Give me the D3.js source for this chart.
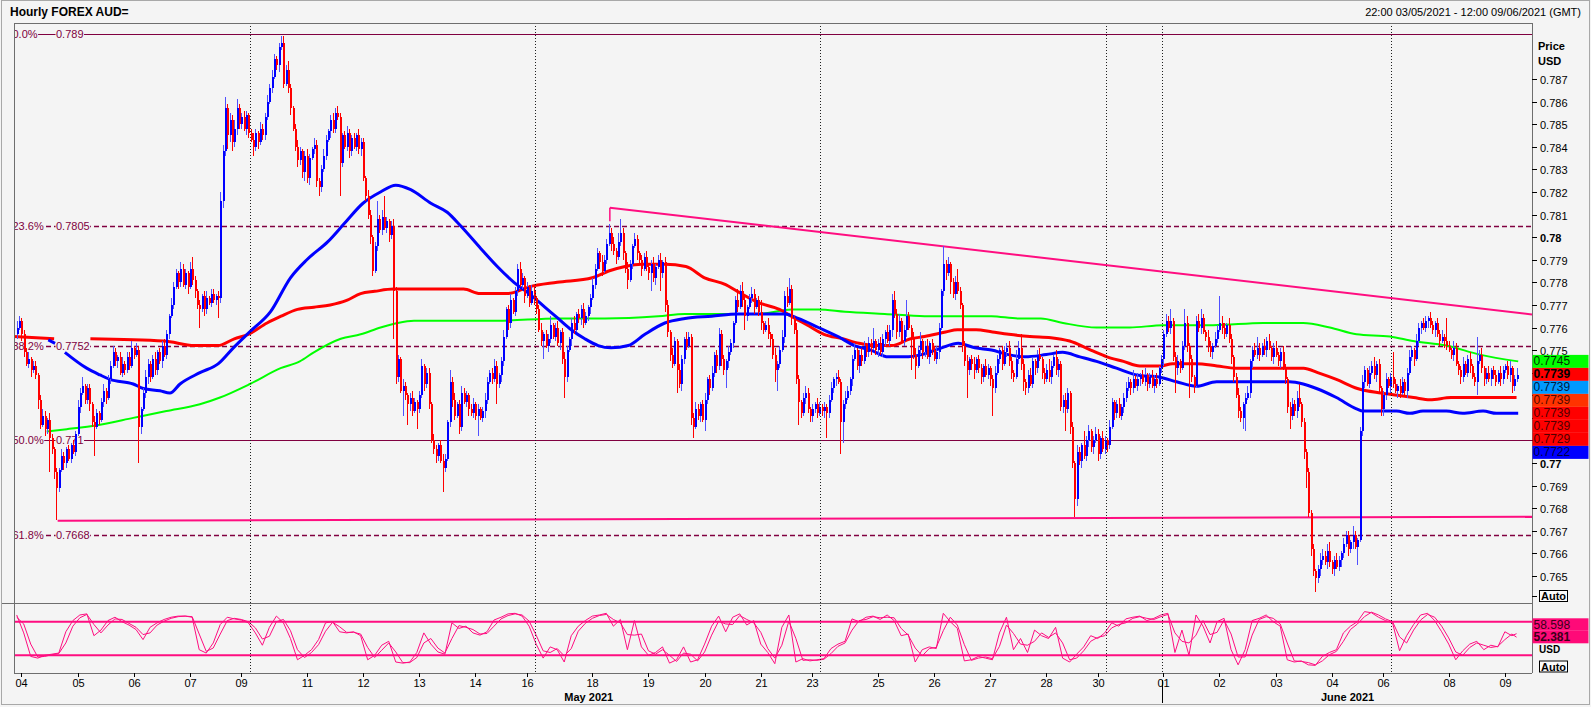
<!DOCTYPE html>
<html><head><meta charset="utf-8">
<script src="https://cdn.jsdelivr.net/npm/d3@7"></script>
<style>
html,body{margin:0;padding:0;background:#f4f4f4;}
svg{display:block;font-family:"Liberation Sans",Arial,sans-serif;}
</style></head><body>
<svg id="c" width="1591" height="707"></svg>
<script>
// ---------------- DATA ----------------
const title = "Hourly FOREX AUD=";
const rangeText = "22:00 03/05/2021 - 12:00 09/06/2021 (GMT)";
// trading days (label, number of hourly bars)
const dayLabels = ["03","04","05","06","07","09","10","11","12","13","14","16","17","18","19","20","21","23","24","25","26","27","28","30","31","01","02","03","04","06","07","08","09"];
const dayBars   = [2,24,24,24,22, 4,24,24,24,24,22, 4,24,24,24,24,22, 4,24,24,24,24,22, 4,24,24,24,24,22, 4,24,24,6];
const hiddenDayLabels = [0,6,12,18,24,30];
const weekSeparators = [6,12,18,24,25,30];
const monthNames = ["May 2021","June 2021"];
const monthFirstDay = [0,25];

const firstOpen = 7757;
// hourly closes (price x 10000)
const closes = [
7760,7763,7757,7749,7744,7746,7741,7743,7739,7728,7717,7721,
7715,7719,7711,7706,7696,7689,7697,7703,7700,7706,7702,7708,
7705,7713,7725,7731,7734,7728,7733,7726,7718,7716,7722,7719,
7727,7732,7729,7737,7743,7749,7745,7747,7740,7744,7741,7747,
7743,7751,7748,7750,7716,7724,7731,7738,7744,7738,7746,7741,
7749,7745,7752,7748,7757,7765,7770,7778,7784,7780,7786,7779,
7784,7778,7786,7781,7776,7770,7768,7774,7768,7773,7771,7775,
7772,7774,7773,7816,7838,7857,7845,7852,7842,7848,7857,7850,
7853,7848,7854,7846,7843,7840,7846,7842,7848,7845,7853,7860,
7866,7871,7879,7876,7884,7886,7868,7874,7866,7857,7848,7840,
7834,7838,7829,7836,7826,7835,7839,7841,7825,7822,7830,7836,
7843,7847,7852,7848,7855,7853,7833,7845,7840,7846,7838,7844,
7840,7845,7839,7842,7826,7818,7810,7800,7785,7796,7808,7803,
7809,7804,7807,7801,7805,7776,7738,7746,7732,7734,7730,7726,
7729,7723,7727,7724,7730,7743,7735,7740,7726,7710,7706,7703,
7708,7701,7698,7702,7718,7736,7728,7721,7726,7716,7731,7727,
7730,7724,7722,7726,7721,7724,7720,7723,7728,7736,7740,7737,
7743,7735,7739,7745,7756,7768,7762,7772,7767,7776,7786,7779,
7782,7774,
7778,7771,7776,7773,7768,7759,7754,7757,7752,7755,7761,7756,
7760,7753,7758,7746,7738,7750,7755,7762,7759,7766,7764,7768,
7762,7765,7769,7773,7779,7786,7793,7789,7785,7790,7797,7802,
7797,7794,7791,7798,7802,7793,7786,7781,7788,7796,7799,7793,
7790,7786,7791,7787,7784,7788,7782,7787,7790,7784,7789,7770,
7758,7748,7744,7754,7741,7735,7746,7755,7752,7756,7720,7716,
7724,7721,7726,7719,7728,7737,7733,7740,7748,7743,7757,7746,
7741,7745,7749,7753,7762,7772,7769,7776,7772,7765,7769,7773,
7775,7769,7772,7767,7762,7759,7761,7757,7755,7748,7741,7744,
7750,7756,7774,7771,7777,7764,7759,7737,7727,7722,7729,7731,
7724,7721,
7724,7726,7722,7725,7723,7725,7722,7728,7733,7737,7738,7736,
7718,7726,7729,7732,7737,7746,7750,7743,7748,7745,7752,7749,
7753,7751,7754,7750,7753,7749,7755,7758,7754,7759,7772,7766,
7758,7763,7754,7759,7765,7760,7756,7748,7743,7750,7754,7749,
7752,7747,7753,7750,7746,7749,7760,7776,7788,7784,7788,7780,
7775,7780,7776,7770,7752,7745,7741,7746,7744,7741,7746,7742,
7738,7743,7739,7742,7737,7733,7740,7746,7750,7744,7749,7751,
7745,7740,7738,7746,7751,7744,7736,7733,7739,7735,7745,7742,
7748,7746,7740,7737,7741,7738,7743,7747,7741,7744,7725,7728,
7724,7731,7716,7700,7684,7705,7701,7708,7703,7710,7714,7707,
7710,7713,
7704,7711,7706,7710,7708,7716,7727,7722,7726,7721,7725,7729,
7733,7736,7733,7737,7734,7737,7739,7736,7739,7735,7738,7734,
7737,7735,7742,7746,7757,7763,7760,7763,7747,7742,7745,7742,
7752,7762,7752,7746,7738,7734,7763,7760,7764,7758,7756,7752,
7749,7752,7755,7759,7762,7760,7757,7761,7755,7747,7738,7730,
7723,7720,7726,7729,7731,7745,7750,7748,7751,7748,7752,7750,
7754,7751,7747,7751,7748,7745,7749,7742,7737,7725,7721,7726,
7723,7729,7726,7718,7705,7696,7678,7662,7652,7649,7653,7657,
7659,7656,7661,7656,7653,7657,7654,7657,7660,7664,7668,7662,
7665,7668,7663,7666,7714,7736,7741,7735,7740,7743,7739,7744,
7733,7724,
7730,7737,7734,7738,7735,7732,7734,7731,7736,7732,7740,7747,
7750,7746,7754,7760,7762,7760,7763,7764,7761,7759,7762,7757,
7754,7756,7754,7752,7750,7748,7751,7744,7741,7738,7744,7740,
7746,7743,7738,7736,7745,7748,7742,7737,7740,7737,7741,7739,
7736,7740,7737,7741,7743,7739,7742,7734,7737,7739
];
// upper wick length above body (pips)
const wickUp = [
3,2,1,2,2,3,1,2,2,1,2,3, 2,1,3,2,1,2,1,3,2,1,2,1, 2,1,3,2,4,1,2,2,1,3,2,1, 2,3,1,2,2,3,2,1,2,3,1,2,
2,3,1,3,2,1,2,3,2,1,2,3, 1,2,2,3,2,1,3,2,2,1,3,2, 2,1,3,5,2,1,2,1,2,3,1,2, 2,1,2,4,3,5,2,3,2,4,4,2,
2,3,2,1,2,3,2,1,3,2,2,3, 2,3,2,1,2,3,3,2,4,2,1,2, 3,2,1,2,3,2,1,3,2,1,2,3, 2,1,2,3,2,3,2,1,2,3,2,1,
2,1,3,2,2,1,3,2,1,2,8,2, 3,9,2,1,2,3,2,2,1,3,2,1, 2,3,2,1,2,3,1,2,2,1,3,2, 1,2,3,2,1,5,2,3,1,2,3,2,
2,1,2,3,1,2,1,2,3,2,1,2, 3,2,1,2,3,1,2,3,1,2,2,3, 2,1,
2,1,3,2,1,2,3,1,2,2,4,1, 2,3,1,2,3,2,1,2,3,1,2,2, 3,2,1,2,3,2,2,1,3,2,2,4, 2,3,1,4,6,2,1,3,2,1,3,2,
1,2,2,3,1,2,3,1,2,3,1,2, 2,1,3,2,1,3,2,1,3,2,1,2, 3,2,1,2,3,1,2,3,1,2,3,2, 2,1,3,2,1,2,5,3,4,2,1,2,
3,2,1,2,5,1,2,3,1,2,3,1, 2,3,2,4,5,2,1,3,2,1,2,3, 2,1,
2,1,3,2,1,2,1,2,3,1,2,3, 1,2,3,2,1,2,3,1,2,3,2,1, 3,2,6,1,2,3,2,1,3,2,3,4, 2,3,1,2,7,2,1,2,3,2,4,1,
2,3,1,2,2,3,2,1,8,2,3,1, 2,3,6,2,1,2,3,1,2,3,1,2, 2,1,3,2,1,2,3,2,1,2,3,2, 3,2,1,4,3,6,2,1,2,3,2,1,
2,3,1,2,3,5,2,1,3,2,1,2, 3,2,1,2,1,3,2,1,6,2,3,1, 2,3,
2,1,3,2,1,3,2,1,2,3,1,2, 3,2,1,4,2,3,1,2,3,1,2,3, 2,3,1,2,2,3,2,5,1,2,3,1, 2,6,3,1,2,1,2,3,4,2,1,3,
2,1,3,2,12,3,2,1,3,2,1,2, 3,2,1,2,3,1,2,3,5,2,1,3, 2,3,1,2,3,1,2,3,2,1,2,3, 2,3,6,1,2,1,2,1,2,1,2,3,
3,2,3,4,1,2,3,2,1,3,2,2, 1,4,2,1,2,3,2,1,3,2,4,1, 2,1,
2,3,1,2,11,2,1,3,2,1,2,3, 2,1,3,2,1,2,2,1,3,2,1,2, 2,3,1,10,2,1,3,2,1,2,3,1, 2,3,1,2,11,2,3,1,2,3,1,2,
2,1,3,2,1,2,3,1,2,3
];
// lower wick length below body (pips)
const wickDn = [
2,1,3,2,1,2,3,1,2,4,2,1, 3,2,15,2,3,14,2,1,3,2,1,2, 1,2,1,3,1,2,2,3,2,13,1,2, 1,2,3,1,2,1,2,3,1,2,2,1,
2,1,2,1,16,3,1,2,3,2,1,2, 2,1,3,1,2,2,1,2,1,3,2,1, 2,3,1,2,3,2,8,1,3,2,1,2, 1,2,9,2,3,2,6,3,4,2,3,2,
2,1,3,2,1,4,2,3,1,2,2,1, 1,2,1,2,3,1,2,1,2,3,1,2, 3,2,3,4,2,3,1,2,3,4,2,1, 2,1,3,2,2,1,15,2,1,2,3,2,
1,2,2,3,1,2,2,3,2,1,2,1, 2,1,2,3,2,21,3,2,1,11,2,9, 3,2,1,9,2,1,3,2,2,1,2,3, 2,1,11,2,1,2,3,2,1,3,2,1,
2,3,1,2,2,9,1,2,3,2,1,2, 1,9,2,3,2,1,3,2,1,2,2,1, 2,3,
1,2,1,3,2,1,2,8,1,3,2,1, 2,1,3,2,9,2,1,3,2,1,2,3, 2,1,2,3,1,2,1,3,2,1,2,1, 3,2,3,1,2,3,2,4,1,2,1,3,
2,3,1,2,3,8,2,3,1,8,2,3, 2,3,2,1,10,2,3,2,2,1,3,5, 1,2,3,1,5,2,3,1,2,3,2,3, 2,8,3,1,2,1,2,1,3,6,2,1,
2,3,1,2,3,2,1,2,3,2,5,9, 2,1,3,2,1,3,2,2,10,2,1,3, 2,3,
3,2,2,1,2,3,11,2,1,2,3,1, 14,9,2,1,2,3,1,2,3,2,1,2, 2,3,1,2,3,1,2,3,1,2,3,2, 3,2,1,2,3,1,15,2,6,1,2,3,
2,1,3,2,1,2,3,1,2,3,1,5, 2,3,1,2,3,2,12,2,3,4,1,2, 3,2,1,2,3,12,2,1,2,3,1,2, 2,3,2,1,2,3,4,3,2,1,2,3,
2,1,3,2,1,2,3,1,2,3,2,3, 10,2,3,2,8,3,2,3,1,2,3,2, 3,1,
3,2,1,2,3,2,1,3,2,1,2,3, 2,1,3,2,1,2,3,1,2,3,2,1, 3,2,1,2,3,1,2,3,2,11,3,2, 1,2,3,17,2,3,1,2,3,1,2,3,
2,3,1,2,1,3,2,1,2,3,2,1, 3,2,5,12,1,2,3,1,2,3,1,2, 3,1,2,3,1,2,3,1,2,3,6,2, 2,3,1,2,3,7,2,3,2,6,2,3,
2,1,3,2,2,3,1,2,3,2,1,3, 2,3,1,8,1,2,3,1,2,1,2,3, 2,3,
3,2,1,3,2,1,3,2,1,2,3,1, 2,3,1,2,3,1,2,3,1,2,3,1, 2,1,3,2,1,2,3,1,2,3,2,1, 2,3,1,2,6,1,2,3,2,1,3,2,
2,1,3,2,1,2,3,3,2,1
];

// moving averages: [bar index, price]; null = gap
const redMA = [[-1.2,0.7756],[16,0.7755],null,[31.5,0.7755],[63,0.7754],[76,0.7752],[86,0.7752],[93,0.7755],[99,0.7757],[107,0.7762],[113,0.7765],[120,0.7768],[127,0.7769],[134,0.7770],[141,0.7772],[147,0.7775],[153,0.7776],[161,0.7777],[173,0.7777],[181,0.7777],[191,0.7777],[198,0.7775],[210,0.7775],[219,0.7778],[231,0.7780],[246,0.7782],[253,0.7785],[260,0.7787],[267,0.7788],[277,0.7788],[286,0.7787],[294,0.7782],[303,0.7779],[308,0.7776],[317,0.7771],[326,0.7768],[331,0.7765],[338,0.7761],[345,0.7757],[353,0.7755],[360,0.7753],[368,0.7752],[374,0.7752],[382,0.7755],[388,0.7756],[397,0.7758],[402,0.7759],[410,0.7759],[417,0.7758],[424,0.7757],[433,0.7756],[442,0.77555],[450,0.7754],[459,0.7750],[466,0.7747],[473,0.7745],[480,0.7743],[489,0.7743],[494,0.7744],[504,0.7744],[513,0.7743],[521,0.7742],[533,0.7742],[550,0.7742],[556,0.7740],[564,0.7737],[573,0.7733],[583,0.7731],[590,0.7730],[597,0.7729],[604,0.7728],[613,0.7729],[641,0.7729]];
const blueMA = [[13.5,0.77545],[16.4,0.7753],null,[20.6,0.7749],[29.9,0.7742],[35.6,0.7739],[39.9,0.7737],[49.8,0.7735],[54.1,0.7733],[61.2,0.7732],[65.5,0.7731],[69.8,0.7735],[78.3,0.7740],[86.2,0.7744],[92.6,0.7751],[99.5,0.7758],[108.5,0.7767],[117,0.7782],[124,0.7790],[133,0.7798],[140,0.7806],[148,0.7815],[155.5,0.7820],[162,0.7823],[168.4,0.7821],[177,0.7815],[184,0.7811],[189.7,0.7805],[198.3,0.7795],[205.4,0.7787],[212.5,0.7780],[219,0.7775],[225.7,0.7769],[231.4,0.7764],[237,0.7759],[242.8,0.7755],[248.5,0.7752],[254,0.7751],[261.4,0.7752],[268.5,0.7757],[277,0.7762],[285.6,0.7764],[297,0.7765],[308.4,0.7766],[328.3,0.7766],[334,0.7764],[342.6,0.7760],[351,0.7756],[358,0.7752],[365,0.7750],[372.5,0.7747],[379.6,0.7747],[386.7,0.7748],[395.3,0.7751],[402.4,0.7753],[409.5,0.7751],[416.6,0.7750],[423.8,0.7748],[431,0.7747],[440,0.7748],[447,0.7749],[454.4,0.7747],[461.5,0.7745],[470,0.7742],[478.6,0.7739],[488.6,0.7738],[495.7,0.7736],[504.2,0.7734],[512.8,0.7736],[532.7,0.7736],[544,0.7736],[549.8,0.7735],[555.5,0.7733],[564,0.7729],[572.6,0.7724],[575.4,0.7723],[589.7,0.7723],[595.4,0.7722],[601,0.7723],[611,0.7723],[618,0.7722],[626.7,0.7723],[632.4,0.7722],[641.7,0.7722]];
const greenMA = [[12.8,0.7714],[21.4,0.7715],[35.6,0.7717],[49.8,0.7720],[64,0.7723],[78.3,0.7726],[86.9,0.7729],[99.7,0.7735],[112.8,0.7742],[121,0.7745],[127,0.7749],[138.5,0.7755],[147,0.7757],[155.5,0.7760],[162.7,0.7762],[169.8,0.7763],[205.4,0.7763],[231.4,0.7764],[251.4,0.7764],[274.2,0.7765],[285.6,0.7766],[317,0.7766],[331.2,0.7768],[342.6,0.7768],[354,0.7767],[371,0.7766],[388,0.7765],[416.6,0.7765],[428,0.7764],[437.7,0.7764],[447.2,0.7762],[461.5,0.7760],[475.7,0.7760],[490,0.7761],[511.3,0.7761],[532.7,0.7762],[549.8,0.7762],[561.2,0.7760],[572.6,0.7757],[586.9,0.7756],[596.8,0.7754],[611,0.7752],[625.3,0.7748],[641.7,0.7745]];

// trend lines [bar index, price]
const resistanceLine = [[253.5,0.7813],[647.6,0.77658]];
const resistanceTick = [[253.5,0.7813],[253.5,0.7807]];
const supportLine = [[17.5,0.76745],[647.6,0.76762]];

// Fibonacci retracement
const fibPct = ["0.0%","23.6%","38.2%","50.0%","61.8%"];
const fibLevels = [0.789,0.7805,0.7752,0.771,0.7668];
const fibText = ["0.789","0.7805","0.7752","0.771","0.7668"];
const fibDashed = [false,true,true,false,true];

// price axis
const priceTicks = [0.765,0.766,0.767,0.768,0.769,0.77,0.771,0.772,0.773,0.774,0.775,0.776,0.777,0.778,0.779,0.78,0.781,0.782,0.783,0.784,0.785,0.786,0.787];
const priceTickText = ["0.765","0.766","0.767","0.768","0.769","0.77","0.771","0.772","0.773","0.774","0.775","0.776","0.777","0.778","0.779","0.78","0.781","0.782","0.783","0.784","0.785","0.786","0.787"];
const priceTagVals = ["0.7745","0.7739","0.7739","0.7739","0.7739","0.7739","0.7729","0.7722"];
const priceTagBg = ["#00ff00","#ff0000","#0099ff","#ff3300","#ff0000","#ff0000","#ff0000","#0000ff"];
const priceTagFg = ["#003000","#000000","#001a40","#500800","#500000","#500000","#500000","#000040"];
const priceTagBold = [false,true,false,false,false,false,false,false];

// stochastic oscillator (sampled every 3 bars, last at bar 641)
const oscK = [92,60,18,15,20,22,24,62,82,92, 94,55,65,82,88,80,74,66,48,70, 78,84,88,90,90,88,30,24,42,75,
88,85,83,78,60,38,70,90,78,50, 12,20,30,48,78,80,62,60,62,55, 12,20,38,45,8,6,8,25,60,40,
26,22,78,68,72,60,56,62,83,88, 94,95,90,72,40,15,35,30,8,55, 72,82,90,92,95,72,84,30,82,35,
20,25,35,6,12,35,8,12,40,72, 90,62,88,94,74,82,40,25,5,70, 92,8,14,10,12,14,32,40,45,85,
80,88,90,84,92,82,55,58,8,30, 35,32,95,80,68,10,12,18,15,12, 60,88,30,50,25,65,55,50,70,15,
8,22,35,55,50,60,78,72,85,88, 90,82,86,92,95,25,65,20,92,72, 42,80,86,30,3,30,82,86,92,80,
72,12,8,10,3,2,18,25,30,60, 72,80,98,96,88,82,78,28,55,75, 92,95,82,62,40,12,28,40,45,30,
38,35,62,55, 58.598];
const oscD = [88,76,40,17,18,21,23,42,72,87, 93,75,60,74,85,84,77,70,57,60, 74,81,86,89,90,89,58,27,33,58,
82,86,84,80,69,49,54,80,84,64, 30,16,25,39,63,79,71,61,61,58, 34,16,29,42,26,7,7,16,42,50,
33,24,50,73,70,66,58,59,72,85, 91,94,92,81,56,28,25,32,19,32, 63,77,86,91,93,84,78,57,56,58,
28,22,30,20,9,24,22,10,26,56, 81,76,75,91,84,78,61,32,15,38, 81,50,11,12,11,13,23,36,42,65,
82,84,89,87,88,87,68,56,33,19, 32,34,64,88,74,39,11,15,17,14, 36,74,59,40,38,45,60,52,60,42,
12,15,28,45,52,55,69,75,78,86, 89,86,84,89,93,60,45,42,56,82, 57,61,83,58,17,17,56,84,89,86,
76,42,10,9,7,3,10,21,27,45, 66,76,89,97,92,85,80,53,42,65, 83,93,88,72,51,26,20,34,42,38,
34,36,48,58, 52.381];
const oscTagVals = ["58.598","52.381"];
const oscTagBold = [false,true];

// ---------------- LAYOUT ----------------
const W = 1591, H = 707, BG = "#f4f4f4";
const plotL = 14, plotR = 1532, plotT = 23, mainB = 603, oscB = 673;
const svg = d3.select("#c");
svg.append("rect").attr("width", W).attr("height", H).attr("fill", BG);

const dayStart = []; let acc = 0;
dayBars.forEach(n => { dayStart.push(acc); acc += n; });

const x = d3.scaleLinear().domain([-1.15, 647.6]).range([plotL, plotR]);
const y = d3.scaleLinear().domain([0.765, 0.787]).range([576, 79]);
const yo = d3.scaleLinear().domain([0, 100]).range([666.5, 610.5]);

const defs = svg.append("defs");
defs.append("clipPath").attr("id","cm").append("rect").attr("x",plotL).attr("y",plotT).attr("width",plotR-plotL).attr("height",mainB-plotT);
defs.append("clipPath").attr("id","co").append("rect").attr("x",plotL).attr("y",mainB).attr("width",plotR-plotL).attr("height",oscB-mainB);

// outer frame
svg.append("rect").attr("x",1.5).attr("y",0.5).attr("width",1588).attr("height",704).attr("fill","none").attr("stroke","#a8a8a8");

// title texts
svg.append("text").attr("x",10).attr("y",16).attr("font-size",12).attr("font-weight","bold").attr("fill","#000").text(title);
svg.append("text").attr("x",1581).attr("y",16).attr("text-anchor","end").attr("font-size",11).attr("fill","#000").text(rangeText);

const main = svg.append("g").attr("clip-path","url(#cm)");
const osc = svg.append("g").attr("clip-path","url(#co)");

// fib lines
const fibColor = "#800040";
fibLevels.forEach((lv,i) => {
  const yy = Math.round(y(lv)) + 0.5;
  main.append("line").attr("x1",plotL).attr("x2",plotR).attr("y1",yy).attr("y2",yy)
    .attr("stroke",fibColor).attr("stroke-width",fibDashed[i]?1.3:1)
    .attr("stroke-dasharray",fibDashed[i]?"5,3":null);
});
fibLevels.forEach((lv,i) => {
  const yy = y(lv);
  [[fibPct[i],12.5],[fibText[i],56]].forEach(([t,tx]) => {
    const bgR = main.append("rect").attr("fill",BG);
    const tEl = main.append("text").attr("x",tx).attr("y",yy+4).attr("font-size",11).attr("fill",fibColor).text(t);
    const w = tEl.node().getComputedTextLength();
    bgR.attr("x",tx-0.5).attr("y",yy-5).attr("width",w+1).attr("height",10);
  });
});

// week separators (dotted)
weekSeparators.forEach(d => {
  const xx = Math.round(x(dayStart[d]-0.5)) + 0.5;
  svg.append("line").attr("x1",xx).attr("x2",xx).attr("y1",plotT).attr("y2",oscB)
    .attr("stroke","#202020").attr("stroke-width",1).attr("stroke-dasharray","1,2");
});

// moving averages
const maLine = d3.line().defined(d => d !== null).x(d => x(d[0])).y(d => y(d[1])).curve(d3.curveMonotoneX);
main.append("path").attr("d",maLine(greenMA)).attr("fill","none").attr("stroke","#00ff00").attr("stroke-width",2);
main.append("path").attr("d",maLine(redMA)).attr("fill","none").attr("stroke","#ff0000").attr("stroke-width",3);
main.append("path").attr("d",maLine(blueMA)).attr("fill","none").attr("stroke","#0000ff").attr("stroke-width",3);

// trend lines
const tl = d3.line().x(d => x(d[0])).y(d => y(d[1]));
const pink = "#ff0d80";
main.append("path").attr("d",tl(resistanceLine)).attr("fill","none").attr("stroke",pink).attr("stroke-width",2);
main.append("path").attr("d",tl(resistanceTick)).attr("fill","none").attr("stroke",pink).attr("stroke-width",1.5);
main.append("path").attr("d",tl(supportLine)).attr("fill","none").attr("stroke",pink).attr("stroke-width",2);

// candles
const bars = closes.map((c,i) => {
  const o = i === 0 ? firstOpen : closes[i-1];
  const hi = Math.max(o,c) + (wickUp[i] || 0);
  const lo = Math.min(o,c) - (wickDn[i] || 0);
  return {i, o:o/1e4, c:c/1e4, h:hi/1e4, l:lo/1e4, up: c >= o};
});
const cg = main.append("g").attr("shape-rendering","crispEdges");
cg.selectAll("line.w").data(bars).join("line").attr("class","w")
  .attr("x1",d => Math.round(x(d.i))+0.5).attr("x2",d => Math.round(x(d.i))+0.5)
  .attr("y1",d => y(d.h)).attr("y2",d => y(d.l))
  .attr("stroke",d => d.up ? "#5050ff" : "#ff0000").attr("stroke-width",1);
cg.selectAll("rect.b").data(bars).join("rect").attr("class","b")
  .attr("x",d => Math.round(x(d.i))-0.5).attr("width",2)
  .attr("y",d => y(Math.max(d.o,d.c)))
  .attr("height",d => Math.max(1, y(Math.min(d.o,d.c)) - y(Math.max(d.o,d.c))))
  .attr("fill",d => d.up ? "#0000ff" : "#ff0000");

// oscillator
const oscIdx = d3.range(0, 640, 3).concat([641]);
[80,20].forEach(v => {
  osc.append("line").attr("x1",plotL).attr("x2",plotR).attr("y1",yo(v)).attr("y2",yo(v)).attr("stroke",pink).attr("stroke-width",2);
});
const oLine = d3.line().x((d,i) => x(oscIdx[i])).y(d => yo(d));
osc.append("path").attr("d",oLine(oscD)).attr("fill","none").attr("stroke",pink).attr("stroke-width",1);
osc.append("path").attr("d",oLine(oscK)).attr("fill","none").attr("stroke",pink).attr("stroke-width",1);

// frames
const frame = "#6e6e6e";
svg.append("line").attr("x1",plotL).attr("x2",plotR).attr("y1",plotT+0.5).attr("y2",plotT+0.5).attr("stroke",frame);
svg.append("line").attr("x1",2).attr("x2",plotR).attr("y1",mainB+0.5).attr("y2",mainB+0.5).attr("stroke",frame);
svg.append("line").attr("x1",plotL).attr("x2",plotR).attr("y1",oscB+0.5).attr("y2",oscB+0.5).attr("stroke",frame);
svg.append("line").attr("x1",plotL+0.5).attr("x2",plotL+0.5).attr("y1",plotT).attr("y2",oscB).attr("stroke",frame);
svg.append("line").attr("x1",plotR+0.5).attr("x2",plotR+0.5).attr("y1",plotT).attr("y2",oscB).attr("stroke",frame);

// price tags region (labels under it are covered in the reference)
const tag0 = y(+priceTagVals[0]) - 6.5;
const tagBottom = tag0 + priceTagVals.length*13;

// price axis
const ax = svg.append("g");
priceTicks.forEach((v,i) => {
  const yy = Math.round(y(v))+0.5;
  ax.append("line").attr("x1",plotR).attr("x2",plotR+5).attr("y1",yy).attr("y2",yy).attr("stroke","#000");
  if (yy - 6 > tag0 - 1 && yy - 6 < tagBottom - 2) return; // hidden behind tags
  ax.append("text").attr("x",plotR+8).attr("y",yy+4).attr("font-size",11)
    .attr("font-weight",(v===0.77||v===0.78)?"bold":"normal").attr("fill","#000").text(priceTickText[i]);
});
ax.append("line").attr("x1",plotR).attr("x2",plotR+5).attr("y1",596.5).attr("y2",596.5).attr("stroke","#000");
ax.append("text").attr("x",1538).attr("y",50).attr("font-size",11).attr("font-weight","bold").text("Price");
ax.append("text").attr("x",1538).attr("y",65).attr("font-size",11).attr("font-weight","bold").text("USD");
ax.append("text").attr("x",1539).attr("y",653).attr("font-size",10).attr("font-weight","bold").text("USD");

// price tags
priceTagVals.forEach((t,i) => {
  const ty = tag0 + i*13;
  ax.append("rect").attr("x",plotR+0.5).attr("y",ty).attr("width",56).attr("height",13).attr("fill",priceTagBg[i]);
  ax.append("text").attr("x",plotR+1.5).attr("y",ty+10.5).attr("font-size",12)
    .attr("font-weight",priceTagBold[i]?"bold":"normal").attr("fill",priceTagFg[i]).text(t);
});
oscTagVals.forEach((t,i) => {
  const ty = 618.3 + i*12.5;
  ax.append("rect").attr("x",plotR+0.5).attr("y",ty).attr("width",56).attr("height",12.5).attr("fill","#ff0a78");
  ax.append("text").attr("x",plotR+1.5).attr("y",ty+10.5).attr("font-size",12)
    .attr("font-weight",oscTagBold[i]?"bold":"normal").attr("fill","#3a0018").text(t);
});
// auto boxes
[590, 660.5].forEach(by => {
  ax.append("rect").attr("x",1539.5).attr("y",by+0.5).attr("width",28).attr("height",11).attr("fill","#fbfbfb").attr("stroke","#000");
  ax.append("text").attr("x",1553.5).attr("y",by+10).attr("text-anchor","middle").attr("font-size",11).attr("font-weight","bold").text("Auto");
});

// time axis
const tx = svg.append("g");
dayLabels.forEach((lab,i) => {
  if (hiddenDayLabels.includes(i)) return;
  const xx = Math.round(x(dayStart[i])) + 0.5;
  tx.append("line").attr("x1",xx).attr("x2",xx).attr("y1",oscB).attr("y2",oscB+4).attr("stroke","#000");
  tx.append("text").attr("x",xx).attr("y",687).attr("text-anchor","middle").attr("font-size",11).attr("fill","#000").text(lab);
});
monthNames.forEach((m,i) => {
  const a = dayStart[monthFirstDay[i]];
  const b = i+1 < monthNames.length ? dayStart[monthFirstDay[i+1]] - 1 : x.domain()[1];
  tx.append("text").attr("x",x((a+b)/2)).attr("y",701).attr("text-anchor","middle").attr("font-size",11).attr("font-weight","bold").text(m);
  if (i > 0) {
    const xx = Math.round(x(a-0.5))+0.5;
    tx.append("line").attr("x1",xx).attr("x2",xx).attr("y1",680).attr("y2",703).attr("stroke","#000");
  }
});
</script>
</body></html>
